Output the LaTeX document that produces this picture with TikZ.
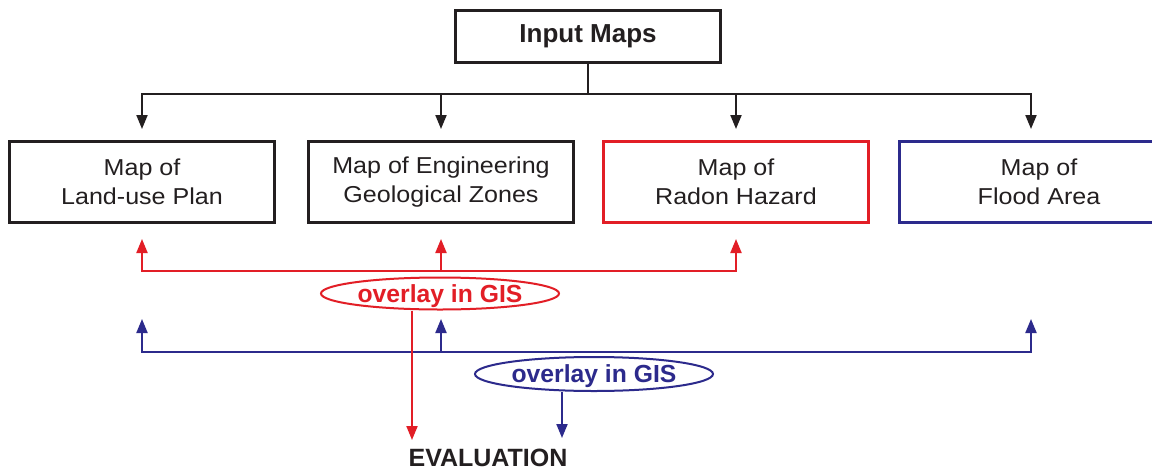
\documentclass[tikz,border=0pt]{standalone}
\usepackage{fontspec}
\setmainfont{Liberation Sans}
\newfontfamily\boxfont{Liberation Sans}[FakeStretch=1.09]
\usetikzlibrary{arrows.meta,shapes.geometric,calc}
\definecolor{cred}{RGB}{226,30,38}
\definecolor{cblue}{RGB}{44,42,140}
\definecolor{cblk}{RGB}{35,31,32}
\begin{document}
\begin{tikzpicture}[x=1pt,y=-1pt,
  mapbox/.style={draw,line width=3pt,minimum width=265pt,minimum height=81pt,inner sep=0pt,align=center,font=\boxfont\fontsize{23}{29.5}\selectfont,text=cblk},
  conn/.style={line width=2pt},
  tipend/.style={-{Triangle[length=14pt,width=11pt]}},
  tipboth/.style={{Triangle[length=14pt,width=11pt]}-{Triangle[length=14pt,width=11pt]}},
  ovl/.style={ellipse,draw,line width=2pt,inner sep=0pt,text height=17.7pt,text depth=0pt,minimum width=238pt,font=\fontsize{24.7}{29}\selectfont\bfseries}]
\useasboundingbox (0,0) rectangle (1152,469);
\fill[white] (0,0) rectangle (1152,469);
\clip (0,0) rectangle (1152,469);

\node[mapbox,draw=cblk,font=\fontsize{26}{30}\selectfont\bfseries,minimum width=265pt,minimum height=52pt] (input) at (588,36.5) {Input Maps};
\node[mapbox,draw=cblk] (land) at (142,182) {Map of\\Land-use Plan};
\node[mapbox,draw=cblk] (eng) at (441,182) {Map of Engineering\\Geological Zones};
\node[mapbox,draw=cred] (radon) at (736,182) {Map of\\Radon Hazard};
\node[mapbox,draw=cblue,minimum width=279pt] (flood) at (1039,182) {Map of\\Flood Area};

\node[ovl,draw=cred,text=cred,minimum height=32pt] (ro) at (440,293.5) {overlay in GIS};
\node[ovl,draw=cblue,text=cblue,minimum height=34pt] (bo) at (594,374) {overlay in GIS};
\node[font=\fontsize{25}{29}\selectfont\bfseries,text=cblk,anchor=base,inner sep=0pt] (ev) at (488,466) {EVALUATION};

\coordinate (bh) at (0,94);
\coordinate (rh) at (0,271);
\coordinate (blh) at (0,352);
\coordinate (fa) at (1031,0);
\coordinate (rd) at (412,440);
\coordinate (bd) at (562,438);

% black
\draw[conn,cblk] (input.south) -- (input.south |- bh);
\draw[conn,cblk,tipboth] ([yshift=11pt]land.north) -- (land.north |- bh) -| ([yshift=11pt]flood.north -| fa);
\draw[conn,cblk,tipend] (eng.north |- bh) -- ([yshift=11pt]eng.north);
\draw[conn,cblk,tipend] (radon.north |- bh) -- ([yshift=11pt]radon.north);

% blue
\draw[conn,cblue,tipboth] ([yshift=-95pt]land.south) -- (land.south |- blh) -| ([yshift=-95pt]flood.south -| fa);
\draw[conn,cblue,tipend] (eng.south |- blh) -- ([yshift=-95pt]eng.south);
\draw[conn,cblue,tipend] (bo.south -| bd) -- (bd);

% red
\draw[conn,cred,tipboth] ([yshift=-15pt]land.south) -- (land.south |- rh) -| ([yshift=-15pt]radon.south);
\draw[conn,cred,tipend] (eng.south |- rh) -- ([yshift=-15pt]eng.south);
\draw[conn,cred,tipend] (ro.south -| rd) -- (rd);
\end{tikzpicture}
\end{document}
